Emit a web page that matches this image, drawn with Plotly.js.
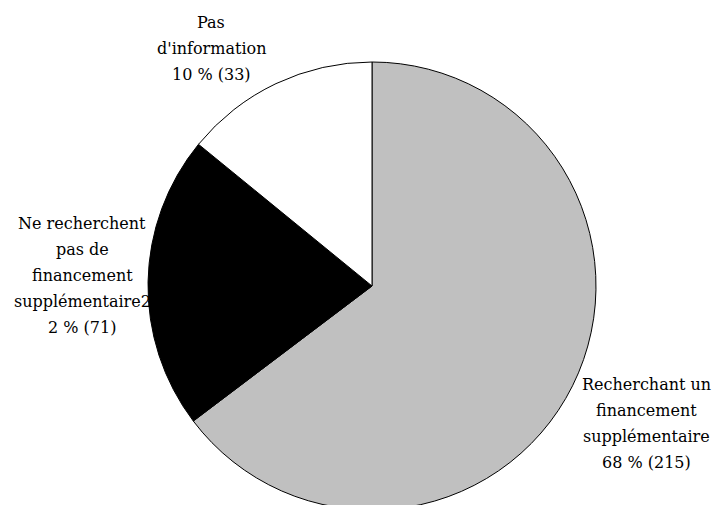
<!DOCTYPE html>
<html>
<head>
<meta charset="utf-8">
<script src="https://cdn.plot.ly/plotly-3.0.1.min.js"></script>
<style>
html, body { margin: 0; padding: 0; overflow: hidden; background: #fff; }
#chart { width: 715px; height: 530px; }
</style>
</head>
<body>
<div id="chart"></div>
<script>
// Categories (in drawing order, clockwise from 12 o'clock)
const categories = ["Recherchant un financement supplémentaire", "Ne recherchent pas de financement supplémentaire", "Pas d'information"];
// Slice shares as drawn in the picture (percent of the circle)
const shares = [64.7, 21.2, 14.1];
// Label lines as printed on the chart
const labelLines = [
  ["Recherchant un", "financement", "supplémentaire", "68 % (215)"],
  ["Ne recherchent", "pas de", "financement", "supplémentaire2", "2 % (71)"],
  ["Pas", "d'information", "10 % (33)"]
];
const sliceColors = ["#c0c0c0", "#000000", "#ffffff"];

const W = 715, H = 530;
// label block centres in pixels and line spacing
const labelPos = [[646, 423], [82, 275], [211, 49]];
const lineGap = 26;
const serif = "DejaVu Serif";

const trace = {
  type: "pie",
  values: shares,
  labels: categories,
  sort: false,
  direction: "clockwise",
  rotation: 0,
  textinfo: "none",
  hoverinfo: "none",
  marker: { colors: sliceColors, line: { color: "#000000", width: 1 } },
  domain: { x: [148 / W, 596 / W], y: [1 - 510 / H, 1 - 62 / H] },
  showlegend: false
};

const annotations = [];
labelLines.forEach((lines, i) => {
  const n = lines.length;
  lines.forEach((t, j) => {
    const py = labelPos[i][1] + (j - (n - 1) / 2) * lineGap;
    annotations.push({
      text: t,
      xref: "paper", yref: "paper",
      x: labelPos[i][0] / W, y: 1 - py / H,
      xanchor: "center", yanchor: "middle",
      showarrow: false,
      font: { family: serif, size: 16, color: "#000000" }
    });
  });
});

const layout = {
  width: W, height: H,
  margin: { l: 0, r: 0, t: 0, b: 0 },
  paper_bgcolor: "#ffffff",
  plot_bgcolor: "#ffffff",
  showlegend: false,
  annotations: annotations
};

Plotly.newPlot("chart", [trace], layout, { displayModeBar: false, staticPlot: true });
</script>
</body>
</html>
